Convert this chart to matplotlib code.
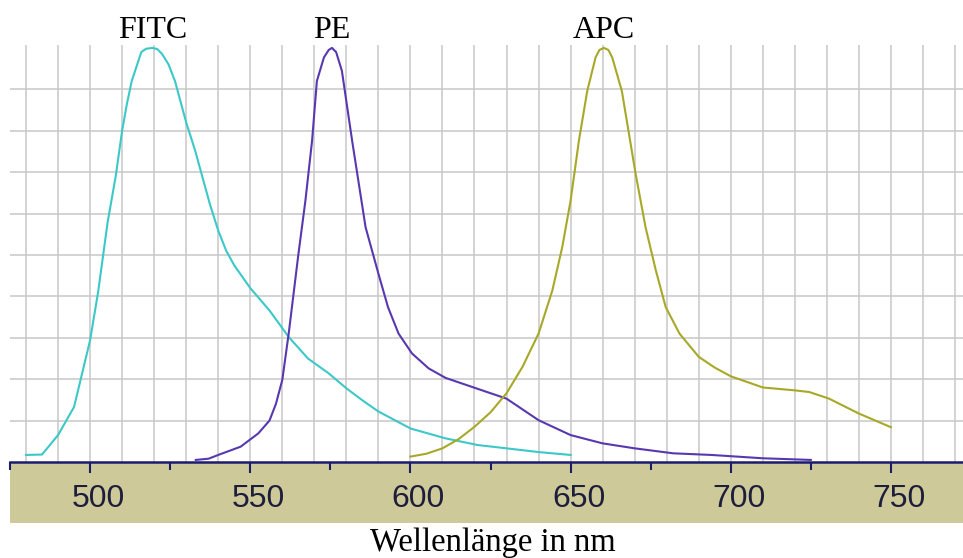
import matplotlib
matplotlib.use("Agg")
import matplotlib.pyplot as plt
import matplotlib.transforms as mtransforms
from matplotlib.patches import Rectangle

# emission spectra (wavelength in nm, normalised intensity)
fitc_nm = [480, 485, 490, 495, 500, 502.5, 505.5, 508, 510, 511.5, 513, 516, 517.5,
           519.5, 521, 522.5, 524.5, 526.5, 530, 532.8, 535, 537.5, 540, 542.5, 545,
           550, 556, 562, 568, 574.5, 580, 585, 590, 600, 611, 621, 630, 640, 650]
fitc_int = [0.017, 0.018, 0.065, 0.133, 0.294, 0.41, 0.58, 0.69, 0.80, 0.865, 0.92, 0.99,
            0.998, 1.0, 0.997, 0.985, 0.96, 0.92, 0.82, 0.752, 0.69, 0.62, 0.559, 0.51,
            0.475, 0.42, 0.366, 0.302, 0.25, 0.214, 0.178, 0.149, 0.122, 0.081, 0.057,
            0.041, 0.033, 0.024, 0.017]

pe_nm = [533, 537, 540, 547, 552.5, 556, 558, 560, 562, 565, 567.2, 569.3, 570.8, 573,
         574.5, 575.5, 576.8, 578.6, 581.8, 586, 590, 593, 596.3, 600.5, 605.7, 611,
         620.5, 630, 640, 650, 660, 670, 682, 694, 710, 725]
pe_int = [0.005, 0.008, 0.017, 0.037, 0.069, 0.10, 0.14, 0.198, 0.31, 0.50, 0.63, 0.776,
          0.92, 0.977, 0.995, 1.0, 0.99, 0.945, 0.776, 0.567, 0.455, 0.374, 0.31, 0.262,
          0.226, 0.203, 0.178, 0.153, 0.101, 0.065, 0.045, 0.033, 0.021, 0.017, 0.009,
          0.005]

apc_nm = [600, 605, 610, 615, 620, 625, 630, 635, 640, 644.3, 647.4, 650, 652.6, 655.2,
          657.8, 659, 660.4, 661.8, 663, 666, 670.3, 673.4, 676.6, 679.7, 684, 690, 695,
          700, 710, 720, 724.5, 730.7, 740, 750]
apc_int = [0.013, 0.02, 0.033, 0.055, 0.085, 0.12, 0.166, 0.23, 0.31, 0.414, 0.519, 0.631,
           0.776, 0.896, 0.977, 0.995, 1.0, 0.995, 0.977, 0.896, 0.696, 0.567, 0.463,
           0.374, 0.31, 0.254, 0.228, 0.207, 0.18, 0.173, 0.169, 0.153, 0.117, 0.084]

dye_names = ["FITC", "PE", "APC"]
dye_peaks = [519.5, 575.5, 660.4]

major_ticks = [500, 550, 600, 650, 700, 750]
minor_ticks = [475, 525, 575, 625, 675, 725]

NAVY = "#1c1c6e"
TAN = "#cdc998"
SERIF = ["Liberation Serif", "DejaVu Serif"]

fig = plt.figure(figsize=(9.63, 5.58), dpi=100)
ax = fig.add_axes([10 / 963, 96 / 558, 953 / 963, 417 / 558])

# tan band under the axis, kept behind the axes so the tick labels sit on it
fig.patches.append(Rectangle((10 / 963, 35 / 558), 953 / 963, 61 / 558,
                             transform=fig.transFigure, facecolor=TAN,
                             edgecolor="none", zorder=-1))

ax.plot(fitc_nm, fitc_int, color="#3cc8c8", lw=1.5)
ax.plot(pe_nm, pe_int, color="#5838b0", lw=1.5)
ax.plot(apc_nm, apc_int, color="#a8a828", lw=1.5)

ax.set_xlim(475, 772.5)
ax.set_ylim(0, 1.007)

# light grey grid every 10 nm / 0.1
for x in range(480, 771, 10):
    ax.axvline(x, color="#c8c8c8", lw=1.1, zorder=0)
for i in range(1, 10):
    ax.axhline(i / 10, color="#c8c8c8", lw=1.1, zorder=0)

for s in ["top", "left", "right"]:
    ax.spines[s].set_visible(False)
ax.spines["bottom"].set_color(NAVY)
ax.spines["bottom"].set_linewidth(1.8)
ax.spines["bottom"].set_zorder(5)

ax.set_yticks([])
ax.set_xticks(major_ticks)
ax.set_xticks(minor_ticks, minor=True)
ax.tick_params(axis="x", which="major", direction="out", length=8, width=1.5,
               color=NAVY, labelcolor="#1e1e3c", labelsize=23, pad=8)
ax.tick_params(axis="x", which="minor", direction="out", length=6, width=1.5, color=NAVY)
# labels in the reference sit a few pixels right of their ticks
offset = mtransforms.ScaledTranslation(8 / 100, 0, fig.dpi_scale_trans)
for lab in ax.get_xticklabels():
    lab.set_family("Liberation Sans")
    lab.set_transform(lab.get_transform() + offset)

for name, peak in zip(dye_names, dye_peaks):
    ax.text(peak, 1.024, name, ha="center", va="baseline", fontsize=23,
            family=SERIF, clip_on=False)

fig.text(492.5 / 963, 7 / 558, "Wellenlänge in nm", ha="center", va="baseline",
         fontsize=23.5, family=SERIF)

fig.savefig("out.png", dpi=100)
